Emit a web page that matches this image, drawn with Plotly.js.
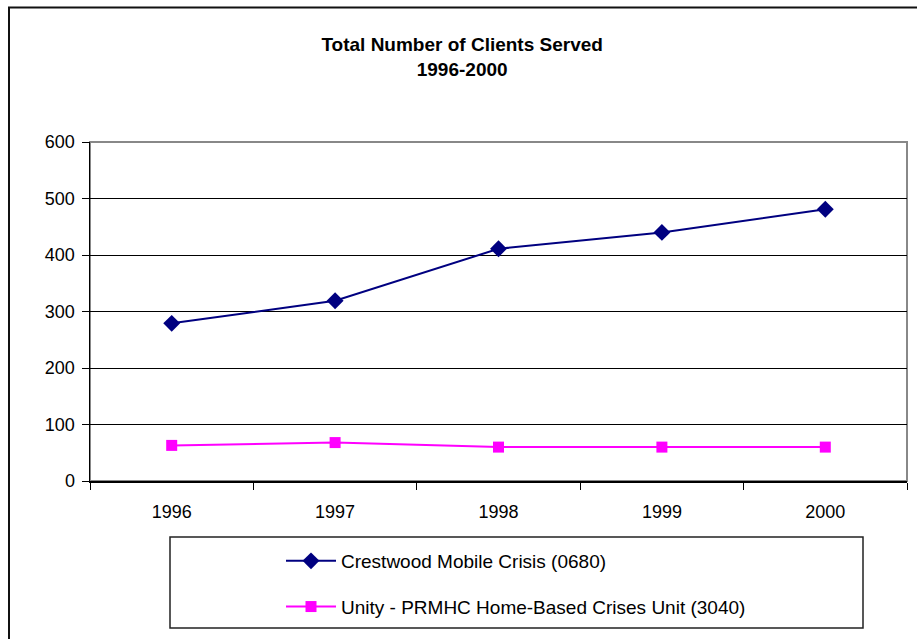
<!DOCTYPE html>
<html>
<head>
<meta charset="utf-8">
<script src="https://cdn.plot.ly/plotly-3.0.1.min.js"></script>
<style>html,body{margin:0;padding:0;background:#fff;}#chart{width:917px;height:639px;}</style>
</head>
<body>
<div id="chart"></div>
<script>
const years = ['1996', '1997', '1998', '1999', '2000'];
const crestwood = [279, 319, 411, 440, 481];
const unity = [63, 68, 60, 60, 60];
const seriesNames = ['Crestwood Mobile Crisis (0680)', 'Unity - PRMHC Home-Based Crises Unit (3040)'];
const yTicks = [0, 100, 200, 300, 400, 500, 600];

const FONT = 'Liberation Sans, Arial, sans-serif';
const W = 917, H = 639, L = 90, R = 10, T = 142, B = 158;
const pw = W - L - R, ph = H - T - B;
const px = x => (x - L) / pw;
const py = y => (H - B - y) / ph;

const traces = [
  {x: years, y: crestwood, name: seriesNames[0], type: 'scatter', mode: 'lines+markers',
   legendgroup: 'a',
   line: {color: '#000080', width: 2}, marker: {symbol: 'diamond', size: 13, color: '#000080'}},
  {x: years, y: unity, name: seriesNames[1], type: 'scatter', mode: 'lines+markers',
   legendgroup: 'b',
   line: {color: '#FF00FF', width: 2}, marker: {symbol: 'square', size: 11, color: '#FF00FF'}}
];

const layout = {
  width: W, height: H,
  margin: {l: L, r: R, t: T, b: B},
  paper_bgcolor: '#fff', plot_bgcolor: '#fff',
  font: {family: FONT, size: 18, color: '#000'},
  title: {text: '<b>Total Number of Clients Served</b><br><b>1996-2000</b>',
          font: {family: FONT, size: 19, color: '#000'},
          x: 0.504, xref: 'container', xanchor: 'center',
          y: 1 - 51 / H, yref: 'container', yanchor: 'top'},
  xaxis: {type: 'category', range: [-0.5, 4.5], tickson: 'boundaries', ticks: 'outside', ticklen: 7, tickcolor: '#000',
          showline: true, linecolor: '#000', linewidth: 1.5, showgrid: false, zeroline: false,
          tickfont: {family: FONT, size: 18}, ticklabelstandoff: 14},
  yaxis: {range: [0, 600], tickvals: yTicks, ticks: 'outside', ticklen: 7, tickcolor: '#000',
          showline: true, linecolor: '#000', linewidth: 1.5, showgrid: true, gridcolor: '#000', gridwidth: 1,
          zeroline: false, tickfont: {family: FONT, size: 18}, ticklabelstandoff: 3},
  showlegend: true,
  legend: {x: px(281), xanchor: 'left', y: py(542), yanchor: 'top',
           bgcolor: 'rgba(0,0,0,0)', borderwidth: 0, tracegroupgap: 18, itemwidth: 50,
           traceorder: 'grouped', font: {family: FONT, size: 19}},
  shapes: [
    {type: 'rect', xref: 'paper', yref: 'paper', x0: 0, x1: 1, y0: 0, y1: 1,
     line: {color: '#888', width: 2}, layer: 'below'},
    {type: 'rect', xref: 'paper', yref: 'paper', x0: px(9), x1: px(925), y0: py(650), y1: py(7.5),
     line: {color: '#111', width: 2}},
    {type: 'rect', xref: 'paper', yref: 'paper', x0: px(170), x1: px(863), y0: py(628), y1: py(537),
     line: {color: '#222', width: 1.5}}
  ]
};

Plotly.newPlot('chart', traces, layout, {displayModeBar: false, staticPlot: true});
</script>
</body>
</html>
